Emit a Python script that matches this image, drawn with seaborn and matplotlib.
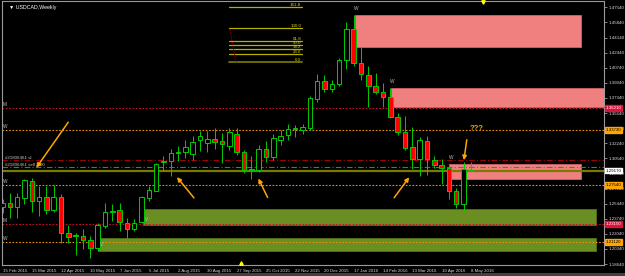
import numpy as np
import matplotlib
matplotlib.use('Agg')
import matplotlib.pyplot as plt
import matplotlib.transforms as mtransforms
from matplotlib.patches import Rectangle
import seaborn as sns

# weekly USDCAD candles, 15 Feb 2015 .. 8 May 2016
opens = [1.2506, 1.2551, 1.2506, 1.2608, 1.2799, 1.2574, 1.2619, 1.2472, 1.2619, 1.2213,
         1.2180, 1.2180, 1.2135, 1.2045, 1.2292, 1.2450, 1.2472, 1.2326, 1.2259, 1.2337,
         1.2608, 1.2686, 1.3013, 1.3024, 1.3126, 1.3126, 1.3103, 1.3261, 1.3227, 1.3272,
         1.3249, 1.3193, 1.3328, 1.3126, 1.2923, 1.2923, 1.3159, 1.3069, 1.3261, 1.3317,
         1.3385, 1.3373, 1.3396, 1.3722, 1.3925, 1.3835, 1.3891, 1.4161, 1.4510, 1.4128,
         1.3993, 1.3869, 1.3801, 1.3745, 1.3520, 1.3351, 1.3182, 1.3047, 1.3249, 1.3035,
         1.2979, 1.2945, 1.2686, 1.2540, 1.2923]
highs = [1.2596, 1.2664, 1.2664, 1.2822, 1.2833, 1.2743, 1.2743, 1.2754, 1.2652, 1.2304,
         1.2213, 1.2259, 1.2180, 1.2326, 1.2551, 1.2540, 1.2551, 1.2382, 1.2371, 1.2630,
         1.2743, 1.3002, 1.3080, 1.3159, 1.3193, 1.3261, 1.3306, 1.3362, 1.3362, 1.3396,
         1.3339, 1.3396, 1.3396, 1.3148, 1.3080, 1.3204, 1.3249, 1.3328, 1.3373, 1.3441,
         1.3430, 1.3441, 1.3756, 1.4004, 1.3993, 1.3936, 1.4184, 1.4589, 1.4668, 1.4308,
         1.4094, 1.4015, 1.3902, 1.3846, 1.3565, 1.3531, 1.3407, 1.3294, 1.3306, 1.3080,
         1.3047, 1.2990, 1.2720, 1.3013, 1.3013]
lows = [1.2439, 1.2382, 1.2382, 1.2540, 1.2450, 1.2405, 1.2427, 1.2450, 1.2101, 1.2101,
        1.1966, 1.2033, 1.1932, 1.2011, 1.2270, 1.2349, 1.2236, 1.2157, 1.2236, 1.2326,
        1.2574, 1.2686, 1.2911, 1.2855, 1.3024, 1.3058, 1.3035, 1.3137, 1.3126, 1.3159,
        1.3002, 1.3148, 1.3092, 1.2889, 1.2822, 1.2900, 1.3013, 1.3035, 1.3204, 1.3261,
        1.3294, 1.3328, 1.3373, 1.3689, 1.3801, 1.3801, 1.3869, 1.4060, 1.4094, 1.3936,
        1.3632, 1.3779, 1.3632, 1.3508, 1.3317, 1.3148, 1.2934, 1.2855, 1.2867, 1.2945,
        1.2765, 1.2596, 1.2495, 1.2461, 1.2911]
closes = [1.2551, 1.2506, 1.2619, 1.2810, 1.2574, 1.2619, 1.2472, 1.2619, 1.2213, 1.2168,
          1.2191, 1.2135, 1.2045, 1.2304, 1.2450, 1.2461, 1.2337, 1.2259, 1.2326, 1.2619,
          1.2698, 1.2990, 1.3024, 1.3114, 1.3114, 1.3182, 1.3238, 1.3306, 1.3272, 1.3238,
          1.3216, 1.3351, 1.3126, 1.2923, 1.2934, 1.3159, 1.3069, 1.3283, 1.3306, 1.3385,
          1.3396, 1.3407, 1.3734, 1.3925, 1.3835, 1.3891, 1.4161, 1.4510, 1.4128, 1.4004,
          1.3869, 1.3801, 1.3745, 1.3520, 1.3351, 1.3171, 1.3047, 1.3261, 1.3047, 1.2979,
          1.2945, 1.2686, 1.2540, 1.2934, 1.2917]

date_ticks = [0, 4, 8, 12, 16, 20, 24, 28, 32, 36, 40, 44, 48, 52, 56, 60, 64]
date_labels = ['15 Feb 2015', '15 Mar 2015', '12 Apr 2015', '10 May 2015', '7 Jun 2015',
               '5 Jul 2015', '2 Aug 2015', '30 Aug 2015', '27 Sep 2015', '25 Oct 2015',
               '22 Nov 2015', '20 Dec 2015', '17 Jan 2016', '14 Feb 2016', '13 Mar 2016',
               '10 Apr 2016', '8 May 2016']
price_ticks = [1.18640, 1.20340, 1.22040, 1.23740, 1.25440, 1.27140, 1.28840, 1.30540,
               1.32240, 1.33940, 1.35640, 1.37340, 1.39040, 1.40740, 1.42440, 1.44140,
               1.45840, 1.47540]

# horizontal S/R levels
level_prices = [1.3621, 1.3373, 1.2754, 1.2315, 1.2112]
level_tags = ['M', 'W', 'W', 'M', 'W']
sl_price = 1.3035
sell_price = 1.2957
bid_price = 1.2917

# zones: (start bar, end bar, low, high)
supply_zones = [(48.2, 79.0, 1.4308, 1.4668), (53.1, 83.0, 1.3632, 1.3846), (61.0, 79.0, 1.2822, 1.2990)]
demand_zones = [(19.2, 81.1, 1.2304, 1.2484), (13.0, 81.1, 1.2011, 1.2157)]

fib_ratios = [1.618, 1.0, 0.618, 0.5, 0.382, 0.236, 0.0]
fib_labels = ['161.8', '100.0', '61.8', '50.0', '38.2', '23.6', '0.0']
fib_low, fib_high = 1.4139, 1.4522

sns.set_theme(style='dark', rc={'axes.facecolor': 'black', 'figure.facecolor': 'black'})
plt.rcParams['font.family'] = ['Liberation Sans Narrow', 'Liberation Sans', 'DejaVu Sans']

green = '#00cc00'
fig = plt.figure(figsize=(6.25, 2.76), dpi=100)
fig.patch.set_facecolor('black')
ax = fig.add_axes([2 / 625, 11 / 276, 602 / 625, 264 / 276])
ax.set_facecolor('black')
ax.set_xlim(-0.07, 82.2)
ax.set_ylim(1.1853, 1.4826)

# zones
for x0, x1, lo, hi in supply_zones:
    ax.add_patch(Rectangle((x0, lo), x1 - x0, hi - lo, fc='#f08080', ec='#c86464', lw=0.6, zorder=1))
for x0, x1, lo, hi in demand_zones:
    ax.add_patch(Rectangle((x0, lo), x1 - x0, hi - lo, fc='#6b8e23', ec='#55731a', lw=0.6, zorder=1))

# level lines
for p, tag in zip(level_prices, level_tags):
    col = '#c8102e' if tag == 'M' else '#e8900c'
    ax.axhline(p, color=col, lw=0.8, ls=(0, (1.5, 1.5)), zorder=2)
    ax.text(0.05, p + 0.0012, tag, color='#bbbbbb', fontsize=3.4, va='bottom', ha='left', zorder=6)
ax.axhline(sl_price, color='#a00000', lw=0.8, ls=(0, (5, 2, 1, 2)), zorder=2)
ax.axhline(sell_price, color='#1f9a1f', lw=0.8, ls=(0, (5, 2, 1, 2)), zorder=2)
ax.axhline(bid_price, color='#7a7a00', lw=1.6, zorder=2)
ax.text(0.4, sl_price + 0.0005, '#21806461 sl', color='#c8c8c8', fontsize=3.2, va='bottom', zorder=6)
ax.text(0.4, sell_price + 0.0005, '#21806461 sell 1.00', color='#c8c8c8', fontsize=3.2, va='bottom', zorder=6)

# fibonacci
for r, lab in zip(fib_ratios, fib_labels):
    lvl = fib_low + r * (fib_high - fib_low)
    col = '#6b6b00' if r == 0 else '#b5b000'
    ax.plot([30.9, 40.9], [lvl, lvl], color=col, lw=1.4 if r == 0 else 0.9, zorder=2)
    ax.text(40.8, lvl + 0.0004, lab, color='#d8d800', fontsize=3.2, ha='right', va='bottom', zorder=6)
ax.plot([31.1, 31.9], [1.4499, 1.4139], color='#c00000', lw=0.7, ls=(0, (1, 1.5)), zorder=2)

# candles
x = np.arange(len(opens))
o = np.array(opens)
c = np.array(closes)
up = c >= o
ax.vlines(x, lows, highs, color=green, lw=0.7, zorder=3)
body = np.maximum(np.abs(c - o), 0.0003)
ax.bar(x[up], body[up], bottom=o[up], width=0.62, color='black', edgecolor=green, lw=0.7, zorder=4)
ax.bar(x[~up], body[~up], bottom=c[~up], width=0.62, color='#ff0000', edgecolor=green, lw=0.7, zorder=4)

# arrows
arrows = [((9.2, 1.3486), (4.4, 1.2923)), ((26.4, 1.2585), (23.6, 1.2867)),
          ((36.4, 1.2585), (34.8, 1.2855)), ((53.3, 1.2585), (55.8, 1.2867)),
          ((63.5, 1.3294), (63.0, 1.3002))]
for start, end in arrows:
    ax.annotate('', xy=end, xytext=start, zorder=7,
                arrowprops=dict(arrowstyle='-|>', color='#ffa500', lw=1.1, mutation_scale=6))
ax.text(64.8, 1.3350, '???', color='#ffa500', fontsize=5.5, fontweight='bold', ha='center', va='bottom', zorder=7)

for bx, by, t in [(48.3, 1.4736, 'W'), (53.3, 1.3914, 'W'), (61.3, 1.3058, 'W'), (19.7, 1.2360, 'V'), (13.5, 1.2079, 'V')]:
    ax.text(bx, by, t, color='#bbbbbb', fontsize=3.4, ha='center', va='center', zorder=6)
ax.plot([32.6], [1.1875], marker='^', color='#ffff00', ms=2.5, zorder=6, clip_on=False)
ax.plot([65.6], [1.4814], marker='v', color='#ffff00', ms=2.5, zorder=6, clip_on=False)

ax.text(0.012, 0.985, '\u25bc USDCAD,Weekly', transform=ax.transAxes, color='white', fontsize=3.8, va='top', ha='left')

# axes styling
for s in ax.spines.values():
    s.set_color('#9a9a9a')
    s.set_linewidth(0.8)
ax.yaxis.tick_right()
ax.set_yticks(price_ticks)
ax.set_yticklabels([f'{p:.5f}' for p in price_ticks])
ax.set_xticks(date_ticks)
ax.set_xticklabels(date_labels, ha='left')
ax.tick_params(axis='both', colors='#9a9a9a', labelcolor='#d8d8d8', labelsize=3.2, length=2, width=0.6, pad=1)
ax.grid(False)

# price labels on the right scale
trans = mtransforms.blended_transform_factory(ax.transAxes, ax.transData)
tag_boxes = [(level_prices[0], '#dc143c', 'white'), (level_prices[1], '#ffa500', 'black'),
             (bid_price, 'white', 'black'), (level_prices[2], '#ffa500', 'black'),
             (level_prices[3], '#dc143c', 'white'), (level_prices[4], '#ffa500', 'black')]
for p, fc, tc in tag_boxes:
    ax.text(1.003, p, f'{p:.5f}', transform=trans, color=tc, fontsize=3.2, va='center', ha='left',
            bbox=dict(boxstyle='square,pad=0.15', fc=fc, ec=fc), zorder=8, clip_on=False)

fig.add_artist(Rectangle((0, 0), 1, 3 / 276, transform=fig.transFigure, fc='#404040', ec='none'))
fig.savefig('out.png', dpi=100, facecolor='black')
